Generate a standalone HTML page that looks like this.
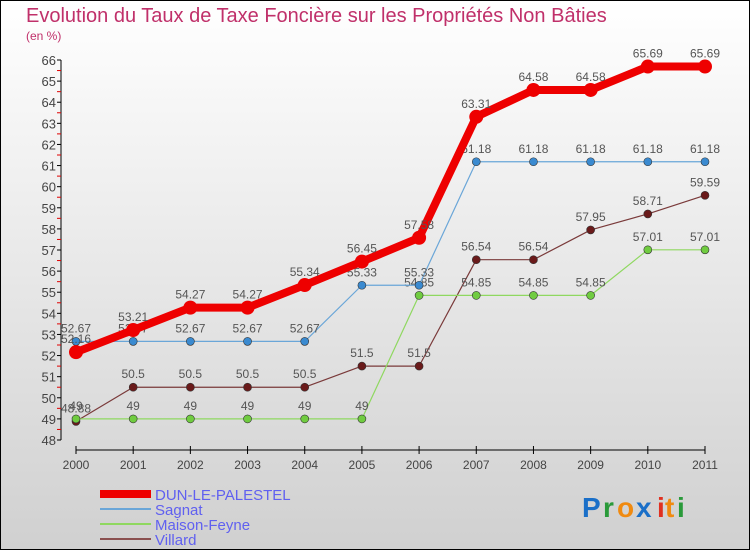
<!DOCTYPE html>
<html><head><meta charset="utf-8"><style>
body{margin:0;}
#wrap{width:750px;height:550px;position:relative;overflow:hidden;}
svg text{font-family:"Liberation Sans",sans-serif;}
</style></head><body>
<div id="wrap">
<svg id="chart" width="750" height="550" viewBox="0 0 750 550">
<defs><linearGradient id="bg" x1="0" y1="0" x2="0" y2="1"><stop offset="0" stop-color="#ffffff"/><stop offset="1" stop-color="#d0d0d0"/></linearGradient></defs>
<rect x="0.5" y="0.5" width="749" height="549" fill="url(#bg)" stroke="#000"/>
<text x="26" y="22" font-size="20" fill="#c0306a">Evolution du Taux de Taxe Foncière sur les Propriétés Non Bâties</text>
<text x="26" y="40" font-size="12" fill="#c0306a">(en %)</text>
<g id="axes"></g><g id="series"></g><g id="legend"></g>
<g font-size="28" font-weight="bold">
<text x="582" y="517" fill="#1a6fc8">P</text><text x="603" y="517" fill="#2a9a3a">r</text><text x="617" y="517" fill="#f08a10">o</text><text x="636" y="517" fill="#1a6fc8">x</text><text x="657" y="517" fill="#e03020">i</text><text x="665" y="517" fill="#f08a10">t</text><text x="677" y="517" fill="#2a9a3a">i</text>
</g>
</svg></div>
<script>
const years=[2000,2001,2002,2003,2004,2005,2006,2007,2008,2009,2010,2011];
const yTicks=[48,49,50,51,52,53,54,55,56,57,58,59,60,61,62,63,64,65,66];
const seriesNames=["DUN-LE-PALESTEL","Sagnat","Maison-Feyne","Villard"];
const dun=[52.16,53.21,54.27,54.27,55.34,56.45,57.58,63.31,64.58,64.58,65.69,65.69];
const sagnat=[52.67,52.67,52.67,52.67,52.67,55.33,55.33,61.18,61.18,61.18,61.18,61.18];
const maison=[49,49,49,49,49,49,54.85,54.85,54.85,54.85,57.01,57.01];
const villard=[48.88,50.5,50.5,50.5,50.5,51.5,51.5,56.54,56.54,57.95,58.71,59.59];
const NS="http://www.w3.org/2000/svg";
const x0=76,x1=705,yMin=48,yMax=66,py0=440,py1=60;
const X=i=>x0+i*(x1-x0)/(years.length-1);
const Y=v=>py0-(v-yMin)*(py0-py1)/(yMax-yMin);
function mk(t,a,p){const e=document.createElementNS(NS,t);for(const k in a)e.setAttribute(k,a[k]);p.appendChild(e);return e;}
const ax=document.getElementById('axes');
const yl=mk('line',{x1:61,y1:Y(48),x2:61,y2:Y(66),stroke:'#000'},ax);

yTicks.forEach(v=>{mk('line',{x1:57,x2:61,y1:Y(v),y2:Y(v),stroke:'#000'},ax);
 if(v<66)mk('line',{x1:57,x2:61,y1:Y(v+0.5),y2:Y(v+0.5),stroke:'#e00000'},ax);
 const t=mk('text',{x:56,y:Y(v)+5,'font-size':13,fill:'#444','text-anchor':'end'},ax);t.textContent=v;
 });
const xl=mk('line',{x1:X(0),y1:450,x2:X(11),y2:450,stroke:'#000'},ax);

years.forEach((y,i)=>{mk('line',{x1:X(i),x2:X(i),y1:446,y2:454,stroke:'#000'},ax);
 const t=mk('text',{x:X(i),y:469,'font-size':12,fill:'#444','text-anchor':'middle'},ax);t.textContent=y;
 });
const sg=document.getElementById('series');
const defs=[[villard,'#7a3a3a','#6a1a1a',1.2,4,'villard'],[maison,'#8fd860','#70cc40',1.2,4,'maison-feyne'],[sagnat,'#6aa6d8','#3a8ad0',1.2,4,'sagnat'],[dun,'#ee0000','#ee0000',8,7,'dun-le-palestel']];
defs.forEach(([d,lc,pc,w,r,n])=>{
 const g=mk('g',{},sg);
 const p=mk('polyline',{points:d.map((v,i)=>X(i)+','+Y(v)).join(' '),fill:'none',stroke:lc,'stroke-width':w,'stroke-linejoin':'round'},g);
 
 d.forEach((v,i)=>{const c=mk('circle',{cx:X(i),cy:Y(v),r:r,fill:pc,stroke:'#333','stroke-width':w>2?0:0.6},g);
  
  const t=mk('text',{x:X(i),y:Y(v)-9,'font-size':12,fill:'#555','text-anchor':'middle'},g);t.textContent=v;
  });
});
const lg=document.getElementById('legend');
const lc=['#ee0000','#6aa6d8','#8fd860','#8a5050'],lw=[8,2,2,2];
seriesNames.forEach((n,i)=>{const yy=494+i*15;
 const g=mk('g',{},lg);
 mk('line',{x1:100,x2:151,y1:yy,y2:yy,stroke:lc[i],'stroke-width':lw[i]},g);
 const t=mk('text',{x:155,y:yy+6,'font-size':15,fill:'#6060f0'},g);t.textContent=n;});
</script>
</body></html>
